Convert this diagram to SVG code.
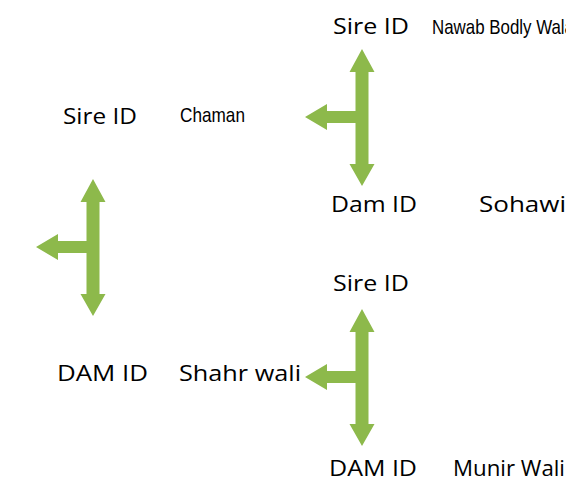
<svg xmlns="http://www.w3.org/2000/svg" width="566" height="479" viewBox="0 0 566 479">
<style>
.lbl{font-family:"Open Sans","Liberation Sans",sans-serif;font-size:22px;fill:#000}
.nar{font-family:"Liberation Sans","DejaVu Sans",sans-serif;font-size:21px;fill:#000}
.arr{fill:#8DB94B}
</style>
<defs>
<path id="lua" d="M0,0 L12.5,23 L6.5,23 L6.5,62 L6.5,62 L6.5,115 L12.5,115 L0,137 L-12.5,115 L-6.5,115 L-6.5,74 L-35,74 L-35,81 L-57,68 L-35,55 L-35,62 L-6.5,62 L-6.5,23 L-12.5,23 Z"/>
</defs>
<rect width="566" height="479" fill="#fff"/>
<g id="connectors">
<use href="#lua" class="arr" x="362" y="49"/>
<use href="#lua" class="arr" x="93" y="179"/>
<use href="#lua" class="arr" x="362" y="309"/>
</g>
<g id="sire1"><text class="lbl" x="333" y="34" textLength="76" lengthAdjust="spacingAndGlyphs">Sire ID</text></g>
<g id="sire1name"><text class="nar" x="432" y="34" textLength="142" lengthAdjust="spacingAndGlyphs">Nawab Bodly Wala</text></g>
<g id="sire0"><text class="lbl" x="63" y="124" textLength="74" lengthAdjust="spacingAndGlyphs">Sire ID</text></g>
<g id="sire0name"><text class="nar" x="180" y="122" textLength="65" lengthAdjust="spacingAndGlyphs" font-size="21">Chaman</text></g>
<g id="dam1"><text class="lbl" x="331" y="212" textLength="86" lengthAdjust="spacingAndGlyphs">Dam ID</text></g>
<g id="dam1name"><text class="lbl" x="479" y="212" textLength="87" lengthAdjust="spacingAndGlyphs">Sohawi</text></g>
<g id="sire2"><text class="lbl" x="333" y="291" textLength="76" lengthAdjust="spacingAndGlyphs">Sire ID</text></g>
<g id="dam0"><text class="lbl" x="57" y="381" textLength="91" lengthAdjust="spacingAndGlyphs">DAM ID</text></g>
<g id="dam0name"><text class="lbl" x="179" y="381" textLength="122" lengthAdjust="spacingAndGlyphs">Shahr wali</text></g>
<g id="dam2"><text class="lbl" x="329" y="476" textLength="88" lengthAdjust="spacingAndGlyphs">DAM ID</text></g>
<g id="dam2name"><text class="lbl" x="453" y="476" textLength="112" lengthAdjust="spacingAndGlyphs">Munir Wali</text></g>
</svg>
